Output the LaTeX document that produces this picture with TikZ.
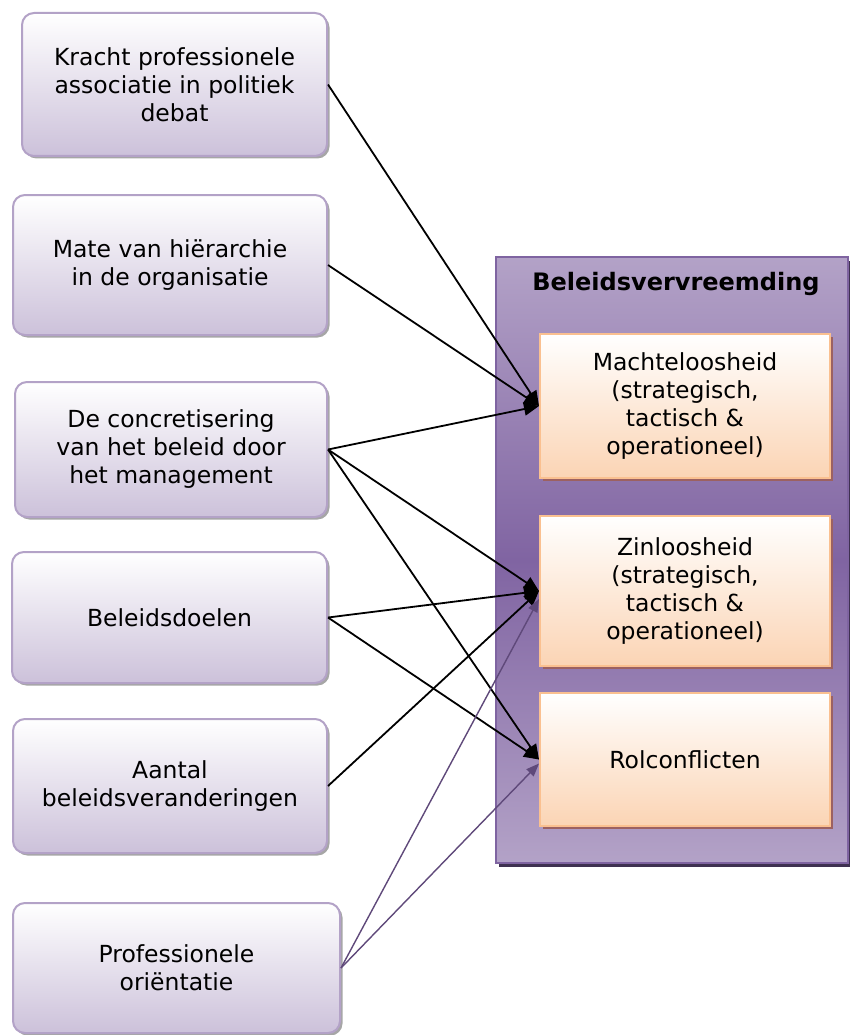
\documentclass[tikz,border=0pt]{standalone}
\usepackage{fontspec}
\setmainfont{DejaVu Sans}
\usetikzlibrary{%
    arrows.meta,
    calc,
    positioning,
    shadows
}
\definecolor{lavline}{HTML}{B3A2C7}
\definecolor{lavfill}{HTML}{CCC1DA}
\definecolor{frameline}{HTML}{7F64A1}
\definecolor{framelight}{HTML}{B3A2C7}
\definecolor{framedark}{HTML}{8064A2}
\definecolor{frameshadow}{HTML}{3F3151}
\definecolor{peachline}{HTML}{FAC090}
\definecolor{peachfill}{HTML}{FBD4B4}
\definecolor{peachshadow}{HTML}{9C6161}
\definecolor{arrowpurple}{HTML}{5F497A}
\tikzset{
    factorbox/.style = {draw=lavline, line width=2pt, rounded corners=12pt,
        top color=white, bottom color=lavfill, align=center, inner sep=0pt,
        font=\fontsize{23.5}{28}\selectfont,
        drop shadow={shadow xshift=2.5pt, shadow yshift=-2.5pt, fill=black!35, opacity=1}},
    framebox/.style = {draw=frameline, line width=2pt,
        top color=framelight, bottom color=framelight, middle color=framedark,
        drop shadow={shadow xshift=3pt, shadow yshift=-4pt, fill=frameshadow, opacity=1}},
    dimbox/.style = {draw=peachline, line width=2pt, minimum width=290pt,
        top color=white, bottom color=peachfill, align=center, inner sep=0pt,
        font=\fontsize{23.5}{28}\selectfont,
        drop shadow={shadow xshift=3pt, shadow yshift=-3pt, fill=peachshadow, opacity=1}},
    headarrow/.style = {-{Triangle[length=15pt,width=13pt]}, line width=1.8pt},
    softarrow/.style = {-{Triangle[length=13pt,width=10pt]}, line width=1.4pt, arrowpurple}
}

\begin{document}
\begin{tikzpicture}[x=1pt, y=-1pt]
    \useasboundingbox (0,0) rectangle (850,1035);

    % factors on the left
    \node (kracht) [factorbox, minimum width=305pt, minimum height=143pt] at (174.5,84.5)
        {Kracht professionele\\associatie in politiek\\debat};
    \node (hier) [factorbox, minimum width=314pt, minimum height=140pt] at (170,265)
        {Mate van hiërarchie\\in de organisatie};
    \node (concr) [factorbox, minimum width=312pt, minimum height=135pt] at (171,449.5)
        {De concretisering\\van het beleid door\\het management};
    \node (doelen) [factorbox, minimum width=315pt, minimum height=131pt] at (169.5,617.5)
        {Beleidsdoelen};
    \node (aantal) [factorbox, minimum width=314pt, minimum height=134pt] at (170,786)
        {Aantal\\beleidsveranderingen};
    \node (prof) [factorbox, minimum width=327pt, minimum height=130pt] at (176.5,968)
        {Professionele\\oriëntatie};

    % beleidsvervreemding and its dimensions
    \node (frame) [framebox, minimum width=352pt, minimum height=606pt] at (672,560) {};
    \node (title) [below=13pt of frame.north, xshift=4pt,
                   font=\fontsize{24}{28}\selectfont\bfseries] {Beleidsvervreemding};
    \node (macht) [dimbox, minimum height=144pt] at (685,406)
        {Machteloosheid\\(strategisch,\\tactisch \&\\operationeel)};
    \node (zin) [dimbox, minimum height=150pt] at (685,591)
        {Zinloosheid\\(strategisch,\\tactisch \&\\operationeel)};
    \node (rol) [dimbox, minimum height=133pt] at (685,759.5)
        {Rolconflicten};

    \coordinate (zin in) at ($(zin.west)+(0,8)$);
    \coordinate (rol in) at ($(rol.west)+(0,4)$);

    \foreach \Source/\Target in {%
        kracht/macht,
        hier/macht,
        concr/macht,
        concr/zin,
        concr/rol,
        doelen/zin,
        doelen/rol,
        aantal/zin%
    }
        \draw[headarrow] (\Source.east) -- (\Target.west);

    \foreach \Target in {zin in, rol in}
        \draw[softarrow] (prof.east) -- (\Target);
\end{tikzpicture}
\end{document}
